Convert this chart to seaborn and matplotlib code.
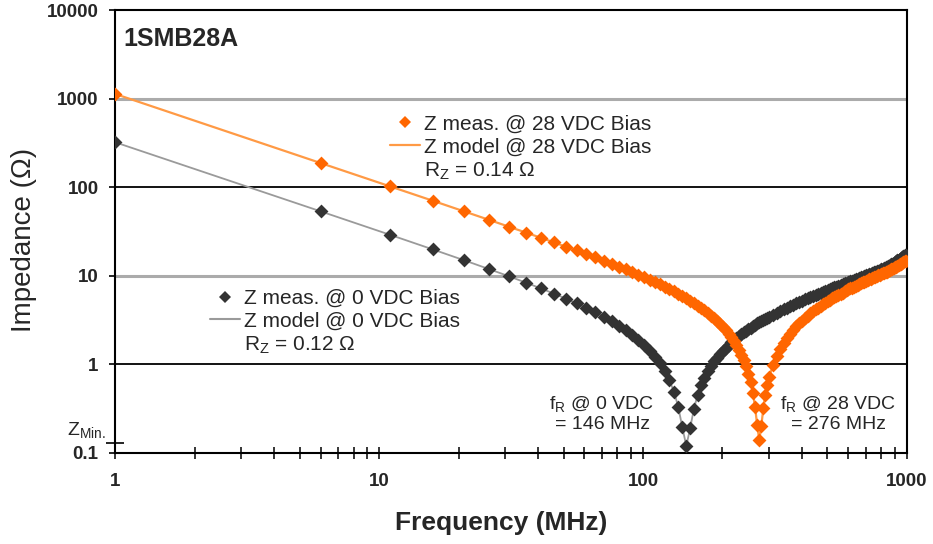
import matplotlib
matplotlib.use('Agg')
import matplotlib.pyplot as plt
import seaborn as sns
import pandas as pd
from matplotlib.lines import Line2D
from matplotlib.ticker import NullFormatter, FixedLocator

# ---------------- data ----------------
freq_mhz = [1, 6, 11, 16, 21, 26, 31, 36, 41, 46, 51, 56, 61, 66, 71, 76, 81, 86, 91, 96,
            101, 106, 111, 116, 121, 126, 131, 136, 141, 146, 151, 156, 161, 166, 171, 176,
            181, 186, 191, 196, 201, 206, 211, 216, 221, 226, 231, 236, 241, 246, 251, 256,
            261, 266, 271, 276, 281, 286, 291, 296, 301,
            311, 321, 331, 341, 351, 361, 371, 381, 391, 401, 411, 421, 431, 441, 451, 461,
            471, 481, 491, 501, 511, 521, 531, 541, 551, 561, 571, 581, 591, 601, 611, 621,
            631, 641, 651, 661, 671, 681, 691, 701, 711, 721, 731, 741, 751, 761, 771, 781,
            791, 801, 811, 821, 831, 841, 851, 861, 871, 881, 891, 901, 911, 921, 931, 941,
            951, 961, 971, 981, 991]

z_0vdc = [321, 53.41, 29.02, 19.82, 14.97, 11.95, 9.89, 8.37, 7.21, 6.29,
          5.53, 4.89, 4.34, 3.87, 3.45, 3.08, 2.74, 2.44, 2.16, 1.90,
          1.657, 1.432, 1.220, 1.027, 0.840, 0.661, 0.493, 0.334, 0.195, 0.120,
          0.191, 0.315, 0.447, 0.579, 0.708, 0.835, 0.960, 1.082, 1.196, 1.314,
          1.430, 1.544, 1.656, 1.767, 1.876, 1.983, 2.089, 2.194, 2.297, 2.400,
          2.501, 2.601, 2.701, 2.799, 2.896, 2.993, 3.089, 3.184, 3.279, 3.373,
          3.466,
          3.651, 3.834, 4.015, 4.194, 4.371, 4.547, 4.722, 4.895, 5.067, 5.238,
          5.408, 5.577, 5.746, 5.913, 6.080, 6.246, 6.411, 6.576, 6.740, 6.904,
          7.067, 7.230, 7.392, 7.554, 7.715, 7.876, 8.036, 8.197, 8.357, 8.516,
          8.676, 8.835, 8.994, 9.152, 9.310, 9.468, 9.626, 9.784, 9.941, 10.10,
          10.26, 10.42, 10.58, 10.75, 10.92, 11.09, 11.27, 11.45, 11.64, 11.84,
          12.04, 12.25, 12.47, 12.70, 12.94, 13.19, 13.45, 13.72, 14.00, 14.29,
          14.59, 14.90, 15.22, 15.55, 15.89, 16.24, 16.60, 16.97, 17.35]

z_28vdc = [1127, 187.7, 102.3, 70.20, 53.36, 42.96, 35.90, 30.77, 26.88, 23.82,
           21.34, 19.30, 17.57, 16.10, 14.82, 13.70, 12.72, 11.83, 11.04, 10.32,
           9.664, 9.064, 8.511, 7.999, 7.524, 7.080, 6.665, 6.275, 5.907, 5.559,
           5.230, 4.916, 4.618, 4.333, 4.061, 3.800, 3.549, 3.307, 3.075, 2.850,
           2.633, 2.423, 2.220, 2.022, 1.830, 1.643, 1.461, 1.292, 1.120, 0.952,
           0.789, 0.631, 0.477, 0.332, 0.205, 0.140, 0.203, 0.323, 0.454, 0.589,
           0.723,
           0.987, 1.238, 1.492, 1.740, 1.982, 2.219, 2.451, 2.679, 2.902, 3.122,
           3.339, 3.552, 3.762, 3.969, 4.174, 4.376, 4.576, 4.773, 4.969, 5.163,
           5.355, 5.545, 5.734, 5.921, 6.107, 6.291, 6.474, 6.656, 6.837, 7.017,
           7.195, 7.373, 7.550, 7.725, 7.900, 8.074, 8.248, 8.420, 8.592, 8.764,
           8.934, 9.104, 9.273, 9.442, 9.610, 9.778, 9.945, 10.11, 10.28, 10.45,
           10.62, 10.80, 10.98, 11.17, 11.37, 11.58, 11.79, 12.01, 12.24, 12.47,
           12.71, 12.96, 13.21, 13.47, 13.73, 14.00, 14.28, 14.57, 14.86]

y_ticks = [0.1, 1, 10, 100, 1000, 10000]
y_tick_labels = ['0.1', '1', '10', '100', '1000', '10000']
x_ticks = [1, 10, 100, 1000]
x_tick_labels = ['1', '10', '100', '1000']
z_min_tick = [0.13]

labels_28 = ['Z meas. @ 28 VDC Bias', 'Z model @ 28 VDC Bias', 'R$_{\\mathregular{Z}}$ = 0.14 Ω']
labels_0 = ['Z meas. @ 0 VDC Bias', 'Z model @ 0 VDC Bias', 'R$_{\\mathregular{Z}}$ = 0.12 Ω']

# ---------------- styling ----------------
sns.set_style('ticks')
plt.rcParams['font.family'] = ['Liberation Sans', 'DejaVu Sans']
plt.rcParams['mathtext.fontset'] = 'custom'
plt.rcParams['mathtext.rm'] = 'Liberation Sans'
plt.rcParams['mathtext.it'] = 'Liberation Sans:italic'

C_MEAS28 = '#ff6600'
C_MODEL28 = '#ff9a45'
C_MEAS0 = '#333333'
C_MODEL0 = '#9a9a9a'

fig = plt.figure(figsize=(9.33, 5.44), dpi=100)
ax = fig.add_axes([0.1236, 0.1673, 0.8483, 0.8143])
ax.set_xscale('log')
ax.set_yscale('log')

df = pd.DataFrame({'freq': freq_mhz, 'z0': z_0vdc, 'z28': z_28vdc})

sns.lineplot(data=df, x='freq', y='z0', ax=ax, color=C_MODEL0, lw=1.3, zorder=3)
sns.lineplot(data=df, x='freq', y='z28', ax=ax, color=C_MODEL28, lw=1.6, zorder=3)
sns.scatterplot(data=df, x='freq', y='z0', ax=ax, marker='D', s=50, color=C_MEAS0,
                linewidth=0, zorder=4)
sns.scatterplot(data=df, x='freq', y='z28', ax=ax, marker='D', s=50, color=C_MEAS28,
                linewidth=0, zorder=5)

ax.set_xlim(1, 1000)
ax.set_ylim(0.1, 10000)

ax.set_xticks(x_ticks, labels=x_tick_labels)
ax.xaxis.set_minor_formatter(NullFormatter())
ax.set_yticks(y_ticks, labels=y_tick_labels)
ax.yaxis.set_minor_locator(FixedLocator(z_min_tick))
ax.yaxis.set_minor_formatter(NullFormatter())

ax.tick_params(axis='x', which='both', direction='inout', length=8.5, width=1.1,
               color='black', labelsize=13.5, pad=10)
ax.tick_params(axis='y', which='major', direction='out', length=4, width=1.2,
               color='black', labelsize=13.5, pad=8)
ax.tick_params(axis='y', which='minor', direction='inout', length=13, width=1.2,
               color='black')
for lab in ax.get_xticklabels() + ax.get_yticklabels():
    lab.set_fontweight('bold')

for sp in ax.spines.values():
    sp.set_visible(True)
    sp.set_color('black')
    sp.set_linewidth(1.5)

ax.set_axisbelow(True)
ax.grid(axis='y', which='major')
for gl, val in zip(ax.get_ygridlines(), y_ticks):
    if val in (10, 1000):
        gl.set_color('#ababab')
        gl.set_linewidth(2.2)
    else:
        gl.set_color('black')
        gl.set_linewidth(1.3)
ax.grid(axis='x', visible=False)

ax.set_xlabel('Frequency (MHz)', fontsize=19, fontweight='bold')
ax.set_ylabel('Impedance (Ω)', fontsize=20)
ax.xaxis.set_label_coords(0.487, -0.13)
ax.yaxis.set_label_coords(-0.099, 0.481)

ax.text(0.0097, 0.9345, '1SMB28A', transform=ax.transAxes, fontsize=18,
        fontweight='bold', va='center', ha='left')
ax.text(-0.037, 0.052, 'Z$_{\\mathregular{Min.}}$', transform=ax.transAxes, fontsize=14,
        va='center', ha='center')
ax.text(0.615, 0.0894, 'f$_{\\mathregular{R}}$ @ 0 VDC\n= 146 MHz', transform=ax.transAxes,
        fontsize=14, va='center', ha='center', linespacing=1.2, zorder=6)
ax.text(0.9132, 0.0894, 'f$_{\\mathregular{R}}$ @ 28 VDC\n= 276 MHz', transform=ax.transAxes,
        fontsize=14, va='center', ha='center', linespacing=1.2, zorder=6)

h28 = [Line2D([], [], marker='D', ls='none', color=C_MEAS28, ms=6.5, mew=0),
       Line2D([], [], color=C_MODEL28, lw=1.6),
       Line2D([], [], ls='none')]
h0 = [Line2D([], [], marker='D', ls='none', color=C_MEAS0, ms=6.5, mew=0),
      Line2D([], [], color=C_MODEL0, lw=1.5),
      Line2D([], [], ls='none')]

leg28 = ax.legend(h28, labels_28, loc='upper left', bbox_to_anchor=(0.3471, 0.7635),
                  frameon=False, fontsize=15, handlelength=1.45, handletextpad=0.2,
                  labelspacing=0.18, borderpad=0, borderaxespad=0)
ax.add_artist(leg28)
leg0 = ax.legend(h0, labels_0, loc='upper left', bbox_to_anchor=(0.1197, 0.3705),
                 frameon=False, fontsize=15, handlelength=1.45, handletextpad=0.2,
                 labelspacing=0.18, borderpad=0, borderaxespad=0)

fig.savefig('out.png', dpi=100)
